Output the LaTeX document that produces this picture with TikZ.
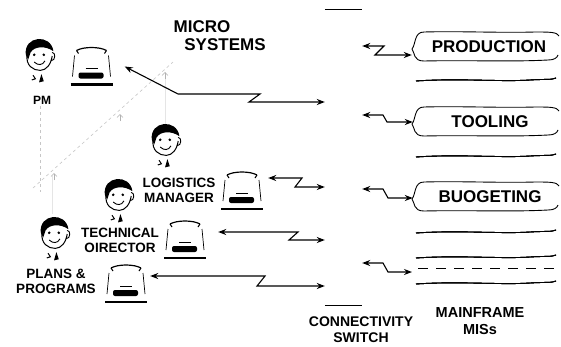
\documentclass[tikz,border=0pt]{standalone}
\usepackage{fontspec}
\setmainfont{Liberation Sans}
\usetikzlibrary{positioning, arrows.meta}

\tikzset{
  lbl/.style={font=\fontsize{13.5}{15}\selectfont\bfseries, align=center, inner sep=0pt},
  biglbl/.style={font=\fontsize{17}{18}\selectfont\bfseries, align=center, inner sep=0pt},
  twoway/.style={line width=1.1pt, {Stealth[length=8pt,width=6pt]}-{Stealth[length=8pt,width=6pt]}},
  rim/.style={line width=0.9pt},
  faint/.style={gray!45, line width=0.6pt, dashed},
  termbox/.style={minimum width=44pt, minimum height=38pt, inner sep=0pt},
  record/.style={biglbl, minimum width=154pt, minimum height=29pt},
  pics/face/.style={code={
    \fill (-11,-1) .. controls (-13,-17) and (10,-19) .. (12,-4)
          .. controls (5,-9) and (-4,-8) .. (-7,-3) -- (-9,3) -- cycle;
    \draw[line width=1pt] (-10,-1) .. controls (-11,8) and (-5,12) .. (1,12)
          .. controls (6,12) and (10,7) .. (11,0);
    \draw[line width=0.9pt] (11,-3) .. controls (14,-3) and (14,4) .. (10,4);
    \fill (-4,-1) circle (1.2pt) (4,-1) circle (1.2pt);
    \draw[line width=0.9pt] (-4,5) .. controls (-1,8) and (3,8) .. (5,4);
    \draw[line width=1pt] (-5,16) -- (-3,19) -- (-6,20);
    \fill (2,15) -- (4,21) -- (0,22) -- cycle;
  }},
  pics/terminal/.style={code={
    \draw[line width=1.2pt] (-15,-16) .. controls (-8,-20) and (8,-20) .. (15,-16);
    \draw[line width=1pt] (-15,-16) -- (-13,-13) (15,-16) -- (13,-13);
    \draw[line width=0.7pt] (-17,-11) -- (-19,10) (17,-11) -- (19,10);
    \draw[line width=0.6pt] (-6,2) -- (6,2);
    \fill[rounded corners=2pt] (-13,6) rectangle (12,12);
    \draw[line width=2.2pt] (-21,18) -- (21,18);
  }},
}

% mainframe record with a curled left end, top edge at #1
\newcommand{\mfrecord}[1]{
  \draw[rim] (559,#1+4) .. controls (557,#1) and (550,#1) .. (535,#1)
      .. controls (500,#1+1) and (460,#1-1) .. (424,#1)
      .. controls (414,#1) and (416,#1+12) .. (412,#1+17)
      .. controls (415,#1+21) and (413,#1+29) .. (424,#1+29)
      .. controls (470,#1+28) and (510,#1+30) .. (548,#1+28)
      .. controls (554,#1+28) and (557,#1+26) .. (558,#1+23);
}
% plain wavy record edge at #1
\newcommand{\mfline}[1]{
  \draw[rim] (416,#1+1) .. controls (460,#1-2) and (500,#1+2) .. (530,#1)
      .. controls (545,#1-1) and (552,#1) .. (556,#1-2);
}

\begin{document}
\begin{tikzpicture}[x=1pt, y=-1pt]
  \useasboundingbox[fill=white] (0,0) rectangle (561,346);

  % pencil guide lines
  \draw[faint] (33,188) -- (173,62);
  \draw[faint] (40,106) -- (40,192);
  \draw[gray!20, line width=0.5pt] (165,72) -- (165,128) (52,176) -- (52,214);
  \foreach \x/\y in {165/79, 120/121, 54/180}
    \draw[gray!60, line width=0.6pt, -{Straight Barb[length=3pt]}] (\x,\y) -- (\x,\y-7);

  % people
  \foreach \p in {(39,56), (165,141), (118,196), (54,234)}
    \pic[scale=1.2] at \p {face};
  \node[lbl, font=\fontsize{12}{13}\selectfont\bfseries] (pm) at (42,100) {PM};
  \node[lbl] (logman) at (179,190) {LOGISTICS\\MANAGER};
  \node[lbl] (techdir) at (120,240) {TECHNICAL\\OIRECTOR};
  \node[lbl] (plans) at (56,281) {PLANS \&\\PROGRAMS};

  % terminals
  \node[termbox] (pmterm) at (91.5,66.5) {};
  \node[termbox] (lmterm) at (242,191) {};
  \node[termbox] (tdterm) at (185,240) {};
  \node[termbox] (ppterm) at (126,284) {};
  \foreach \t in {pmterm, lmterm, tdterm, ppterm}
    \pic at (\t) {terminal};

  \node[biglbl] (micro) at (202,27) {MICRO};
  \node[biglbl] (systems) at (225,45) {SYSTEMS};

  % connectivity switch, only its end caps are inked
  \node[minimum width=37pt, minimum height=295pt, inner sep=0pt] (switch) at (343.5,157.5) {};
  \draw[line width=1pt] (switch.north west) -- (switch.north east)
                        (switch.south west) -- (switch.south east);
  \node[lbl, font=\fontsize{14}{16}\selectfont\bfseries] (switchlbl) at (361,330) {CONNECTIVITY\\SWITCH};

  % mainframe records
  \foreach \y in {32, 107, 182}
    \mfrecord{\y}
  \foreach \y in {80, 156, 232, 257, 283}
    \mfline{\y}
  \draw[rim, dash pattern=on 10pt off 8pt] (418,268) -- (556,268);
  \node[record] (prod) at (489,47) {PRODUCTION};
  \node[record] (tool) at (490,122) {TOOLING};
  \node[record] (budget) at (490,197) {BUOGETING};
  \coordinate (archive) at (412,272);
  \node[lbl, font=\fontsize{14.5}{17}\selectfont\bfseries] (mislbl) at (480,321) {MAINFRAME\\MISs};

  % links from the terminals to the switch
  \draw[twoway] ([xshift=11pt]pmterm.east) -- (178,94) -- (260,94) -- (249,102) -- (switch.west |- 0,102);
  \draw[twoway] ([xshift=4pt,yshift=13pt]lmterm.east) -- (302,178) -- (295,187) -- (switch.west |- 0,187);
  \draw[twoway] ([xshift=11pt,yshift=8pt]tdterm.east) -- (298,232) -- (289,240) -- (switch.west |- 0,240);
  \draw[twoway] ([xshift=2pt,yshift=8pt]ppterm.east) -- (265,276) -- (257,286) -- (switch.west |- 0,286);

  % links from the switch to the mainframe
  \draw[twoway] (switch.east |- 0,46) -- (384,46) -- (375,55) -- ([yshift=-8pt]prod.west);
  \draw[twoway] (switch.east |- 0,115) -- (383,115) -- (387,122) -- (tool.west);
  \draw[twoway] (switch.east |- 0,189) -- (383,189) -- (388,198) -- ([yshift=-1pt]budget.west);
  \draw[twoway] (switch.east |- 0,263) -- (383,263) -- (388,272) -- (archive);
\end{tikzpicture}
\end{document}
